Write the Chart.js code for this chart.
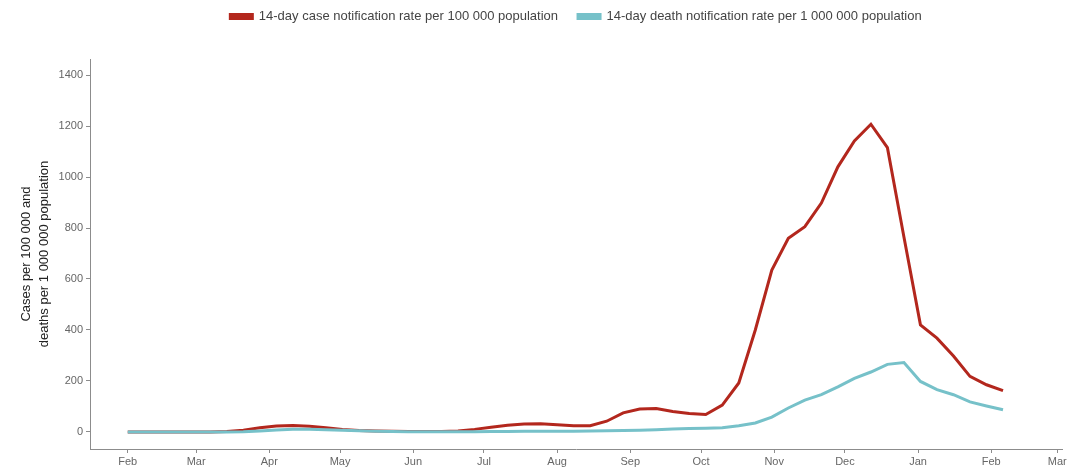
<!DOCTYPE html>
<html>
<head>
<meta charset="utf-8">
<script src="https://cdn.jsdelivr.net/npm/chart.js@4"></script>
<style>
  html, body { margin: 0; padding: 0; background: #fff; }
  #wrap { width: 1086px; height: 474px; }
</style>
</head>
<body>
<div id="wrap"><canvas id="lineChart"></canvas></div>
<script>
// week ending dates (one point per week)
const weeks = [
  '2020-02-01','2020-02-08','2020-02-15','2020-02-22','2020-02-29','2020-03-07','2020-03-14','2020-03-21','2020-03-28',
  '2020-04-04','2020-04-11','2020-04-18','2020-04-25','2020-05-02','2020-05-09','2020-05-16','2020-05-23','2020-05-30',
  '2020-06-06','2020-06-13','2020-06-20','2020-06-27','2020-07-04','2020-07-11','2020-07-18','2020-07-25','2020-08-01',
  '2020-08-08','2020-08-15','2020-08-22','2020-08-29','2020-09-05','2020-09-12','2020-09-19','2020-09-26','2020-10-03',
  '2020-10-10','2020-10-17','2020-10-24','2020-10-31','2020-11-07','2020-11-14','2020-11-21','2020-11-28','2020-12-05',
  '2020-12-12','2020-12-19','2020-12-26','2021-01-02','2021-01-09','2021-01-16','2021-01-23','2021-01-30','2021-02-06'
];
const caseRate = [
  0, 0, 0, 0, 0, 0, 2, 7, 16,
  23, 25, 22, 16, 10, 6, 4, 3, 2,
  2, 2, 4, 10, 18, 26, 31, 32, 28,
  24, 24, 42, 75, 90, 92, 80, 72, 68,
  105, 192, 400, 635, 760, 805, 898, 1040, 1142,
  1207, 1115, 765, 420, 368, 298, 218, 185, 162
];
const deathRate = [
  0, 0, 0, 0, 0, 0, 0, 1, 4,
  8, 10, 10, 9, 7, 5, 3, 2, 1,
  1, 1, 1, 1, 2, 2, 3, 3, 3,
  3, 4, 5, 6, 7, 9, 11, 13, 14,
  16, 24, 35, 58, 94, 125, 146, 177, 210,
  235, 265, 272, 198, 166, 146, 118, 102, 87
];
const monthStarts = ['2020-02-01','2020-03-01','2020-04-01','2020-05-01','2020-06-01','2020-07-01','2020-08-01',
  '2020-09-01','2020-10-01','2020-11-01','2020-12-01','2021-01-01','2021-02-01','2021-03-01'];
const monthLabels = ['Feb','Mar','Apr','May','Jun','Jul','Aug','Sep','Oct','Nov','Dec','Jan','Feb','Mar'];
const yTicks = [0, 200, 400, 600, 800, 1000, 1200, 1400];

const origin = Date.parse('2020-02-01');
const dayOf = s => (Date.parse(s) - origin) / 86400000;
const monthDays = monthStarts.map(dayOf);

const axisGrey = '#8c8c8c';
const tickText = '#666';

// extra room under the legend, and centre it over the plot panel
const legendGap = {
  id: 'legendGap',
  beforeInit(chart) {
    const fit = chart.legend.fit;
    chart.legend.fit = function () {
      fit.call(this);
      this.height += 16;
    };
  },
  afterLayout(chart) {
    const lg = chart.legend;
    const shift = (chart.chartArea.left + chart.chartArea.right) / 2 - (lg.left + lg.right) / 2;
    lg.left += shift;
    lg.right += shift;
    lg.top -= 10;
  }
};

const ctx = document.getElementById('lineChart').getContext('2d');
new Chart(ctx, {
  type: 'line',
  data: {
    datasets: [{
      label: '14-day case notification rate per 100 000 population',
      data: weeks.map((w, i) => ({ x: dayOf(w), y: caseRate[i] })),
      borderColor: '#b3271d',
      backgroundColor: '#b3271d',
      borderWidth: 3,
      pointRadius: 0,
      tension: 0,
      order: 1
    }, {
      label: '14-day death notification rate per 1 000 000 population',
      data: weeks.map((w, i) => ({ x: dayOf(w), y: deathRate[i] })),
      borderColor: '#76c1c9',
      backgroundColor: '#76c1c9',
      borderWidth: 3,
      pointRadius: 0,
      tension: 0,
      order: 0
    }]
  },
  plugins: [legendGap],
  options: {
    responsive: true,
    maintainAspectRatio: false,
    animation: false,
    layout: { padding: { left: 18, right: 24, top: 0, bottom: 0 } },
    plugins: {
      tooltip: { enabled: false },
      legend: {
        position: 'top',
        labels: {
          boxWidth: 22,
          boxHeight: 4,
          padding: 20,
          color: '#444',
          font: { family: 'Liberation Sans', size: 13 },
          sort: (a, b) => a.datasetIndex - b.datasetIndex
        }
      }
    },
    scales: {
      x: {
        type: 'linear',
        min: -16,
        max: 396,
        afterBuildTicks: s => { s.ticks = monthDays.map(v => ({ value: v })); },
        afterFit: s => { s.height = 25; },
        ticks: {
          autoSkip: false,
          maxRotation: 0,
          padding: 2,
          color: tickText,
          font: { family: 'Liberation Sans', size: 11 },
          callback: v => monthLabels[monthDays.indexOf(v)]
        },
        grid: { drawOnChartArea: false, drawTicks: true, tickLength: 4, color: axisGrey },
        border: { display: true, color: axisGrey, width: 1 }
      },
      y: {
        min: -67,
        max: 1463,
        afterBuildTicks: s => { s.ticks = yTicks.map(v => ({ value: v })); },
        afterFit: s => { s.width = 72; },
        ticks: {
          padding: 3,
          color: tickText,
          font: { family: 'Liberation Sans', size: 11 },
          callback: v => String(v)
        },
        grid: { drawOnChartArea: false, drawTicks: true, tickLength: 4, color: axisGrey },
        border: { display: true, color: axisGrey, width: 1 },
        title: {
          display: true,
          text: ['Cases per 100 000 and', 'deaths per 1 000 000 population'],
          color: '#222',
          font: { family: 'Liberation Sans', size: 13, lineHeight: 1.35 },
          padding: { top: 0, bottom: 4 }
        }
      }
    }
  }
});
</script>
</body>
</html>
